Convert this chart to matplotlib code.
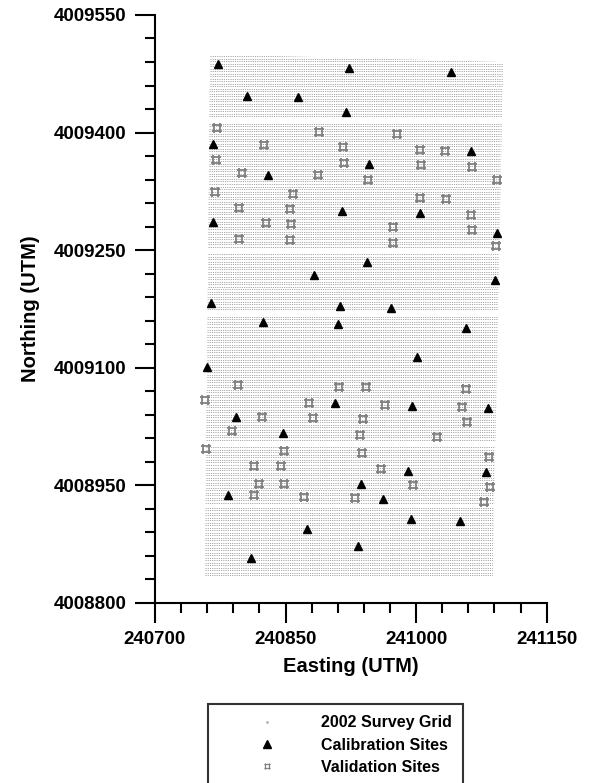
import numpy as np
import matplotlib
matplotlib.use("Agg")
import matplotlib.pyplot as plt
from matplotlib.collections import LineCollection
from matplotlib.lines import Line2D
from matplotlib.patches import Polygon
from matplotlib.path import Path
from matplotlib.ticker import MultipleLocator

plt.rcParams['font.family'] = ['Liberation Sans', 'DejaVu Sans']
plt.rcParams['font.weight'] = 'bold'

# calibration sites (UTM easting / northing, m)
cal_east = [240772, 240923, 240806, 240864, 241040, 240919, 240767, 240830,
            240946, 241063, 240915, 241004, 240767, 240944, 240883, 240764,
            240913, 240824, 240910, 240760, 241093, 241091, 240971, 241057,
            241001, 240907, 240793, 240847, 240937, 240784, 240875, 240933,
            240810, 240995, 241083, 240991, 241080, 240962, 240994, 241050]
cal_north = [4009488, 4009482, 4009447, 4009445, 4009477, 4009426, 4009385, 4009346,
             4009360, 4009376, 4009300, 4009297, 4009286, 4009235, 4009218, 4009183,
             4009179, 4009158, 4009156, 4009101, 4009272, 4009212, 4009176, 4009151,
             4009114, 4009055, 4009037, 4009017, 4008952, 4008938, 4008894, 4008873,
             4008857, 4009051, 4009049, 4008968, 4008967, 4008933, 4008907, 4008905]

# validation sites
val_east = [240771, 240888, 240825, 240916, 240770, 240917, 240800, 240887,
            240945, 240769, 240859, 240797, 240855, 240978, 241004, 241033,
            241006, 241064, 241093, 241004, 241034, 241063, 240828, 240856,
            240797, 240855, 240795, 240911, 240942, 240973, 241064, 240973,
            241092, 241057, 240757, 240877, 240823, 240882, 240939, 240788,
            240936, 240759, 240848, 240938, 240814, 240845, 240819, 240848,
            240814, 240871, 240930, 240964, 241053, 241058, 241024, 241084,
            240960, 240996, 241085, 241078]
val_north = [4009406, 4009401, 4009384, 4009382, 4009365, 4009361, 4009348, 4009346,
             4009340, 4009324, 4009322, 4009304, 4009303, 4009398, 4009378, 4009376,
             4009359, 4009356, 4009340, 4009317, 4009315, 4009295, 4009285, 4009283,
             4009264, 4009263, 4009078, 4009076, 4009076, 4009280, 4009276, 4009259,
             4009255, 4009073, 4009059, 4009055, 4009037, 4009036, 4009035, 4009019,
             4009014, 4008996, 4008994, 4008991, 4008975, 4008975, 4008952, 4008952,
             4008938, 4008935, 4008934, 4009053, 4009050, 4009031, 4009012, 4008986,
             4008971, 4008950, 4008948, 4008929]

# 2002 survey block outline (NW, NE, SE, SW) and transect layout
block_east = [240763, 241100, 241088, 240757]
block_north = [4009500, 4009490, 4008832, 4008832]
transect_spacing = 3.2
missing_transects = [4009416, 4009250, 4009169, 4009003, 4008925]

# '#'-shaped marker for validation sites
hash_marker = Path(
    [(-1, -0.55), (1, -0.55), (-1, 0.55), (1, 0.55),
     (-0.55, -1), (-0.55, 1), (0.55, -1), (0.55, 1)],
    [Path.MOVETO, Path.LINETO] * 4)

fig = plt.figure(figsize=(5.92, 7.83), dpi=100)
ax = fig.add_axes([0.2618, 0.2299, 0.6617, 0.7510])

# survey transects, clipped to the block outline
block = Polygon(list(zip(block_east, block_north)), closed=True,
                facecolor='none', edgecolor='none')
ax.add_patch(block)
n_top = max(block_north)
segs = []
for n in np.arange(block_north[2], n_top, transect_spacing):
    if any(abs(n - m) < 2.5 for m in missing_transects):
        continue
    f = (n - block_north[3]) / (block_north[0] - block_north[3])
    x0 = block_east[3] + f * (block_east[0] - block_east[3])
    f2 = (n - block_north[2]) / (block_north[1] - block_north[2])
    x1 = block_east[2] + f2 * (block_east[1] - block_east[2])
    segs.append([(x0, n), (x1, n)])
grid_lines = LineCollection(segs, colors='0.5', linewidths=0.5,
                            linestyles=[(0, (1.6, 1.6))])
grid_lines.set_clip_path(block)
ax.add_collection(grid_lines)

ax.plot(cal_east, cal_north, linestyle='none', marker='^', ms=5.5,
        color='black', zorder=3)
ax.plot(val_east, val_north, linestyle='none', marker=hash_marker, ms=7,
        mew=1.3, color='0.5', zorder=3)

ax.set_xlim(240700, 241150)
ax.set_ylim(4008800, 4009550)
ax.xaxis.set_major_locator(MultipleLocator(150, offset=100))
ax.xaxis.set_minor_locator(MultipleLocator(30, offset=10))
ax.yaxis.set_major_locator(MultipleLocator(150, offset=50))
ax.yaxis.set_minor_locator(MultipleLocator(30, offset=20))
ax.ticklabel_format(useOffset=False, style='plain')

for side in ['top', 'right']:
    ax.spines[side].set_visible(False)
for side in ['left', 'bottom']:
    ax.spines[side].set_linewidth(1.5)

ax.tick_params(which='major', direction='out', length=14.4, width=1.5,
               labelsize=13.5, pad=6)
ax.tick_params(which='minor', direction='out', length=7.2, width=1.5)

ax.set_xlabel('Easting (UTM)', fontsize=14.5, fontweight='bold', labelpad=6)
ax.set_ylabel('Northing (UTM)', fontsize=14.5, fontweight='bold', labelpad=10)

handles = [
    Line2D([], [], linestyle='none', marker='.', ms=2, color='0.7'),
    Line2D([], [], linestyle='none', marker='^', ms=5.5, color='black'),
    Line2D([], [], linestyle='none', marker=hash_marker, ms=5, mew=0.9, color='0.5'),
]
labels = ['2002 Survey Grid', 'Calibration Sites', 'Validation Sites']
leg = fig.legend(handles, labels, loc='upper left', bbox_to_anchor=(208 / 592, 1 - 704 / 783),
                 fontsize=11.5, frameon=True, fancybox=False, borderpad=0.7,
                 handlelength=6.0, handletextpad=0.4, labelspacing=0.46,
                 borderaxespad=0)
leg.get_frame().set_edgecolor('black')
leg.get_frame().set_linewidth(1.5)

fig.savefig('out.png', dpi=100)
